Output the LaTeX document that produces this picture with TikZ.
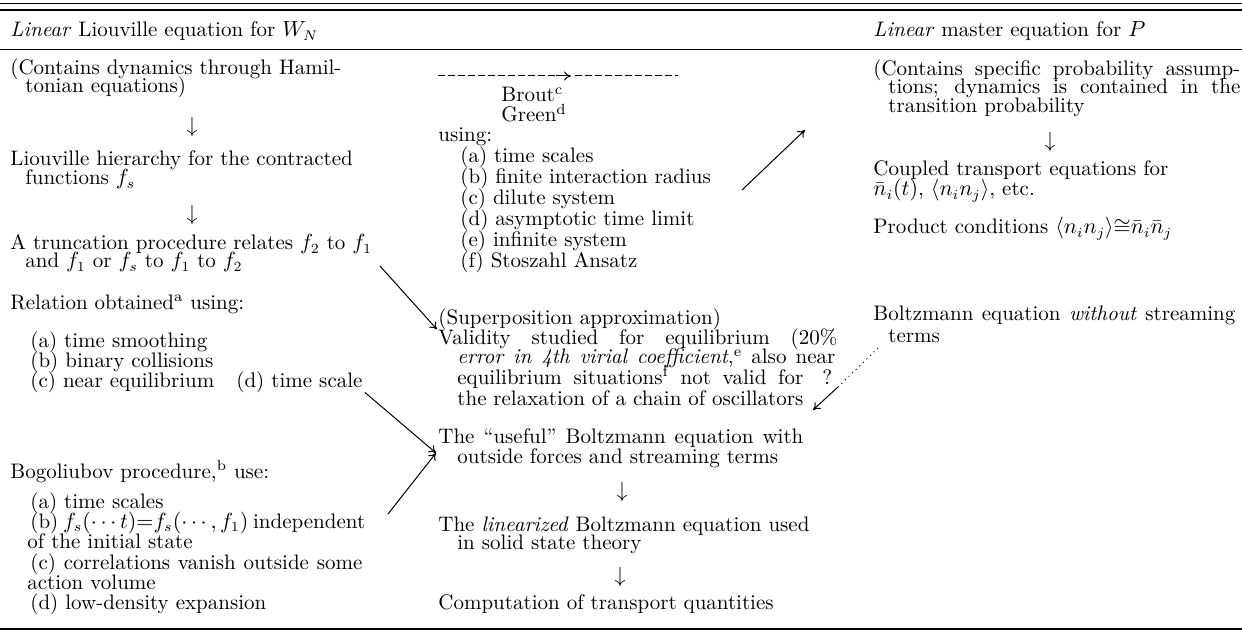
\documentclass[tikz,border=0pt]{standalone}
\usepackage{fontspec}
\usetikzlibrary{arrows.meta}
\begin{document}
\begin{tikzpicture}[x=0.5pt,y=-0.5pt,
  txt/.style={anchor=base west, inner sep=0pt, text height=6pt, text depth=1.5pt, font=\fontsize{10.5}{12}\selectfont},
  glyph/.style={anchor=center, inner sep=0pt, font=\fontsize{10.5}{12}\selectfont},
  arr/.style={-{To[length=3.5pt,width=4.5pt]}, line width=0.5pt},
  rulethin/.style={line width=0.6pt},
  rulethick/.style={line width=0.9pt}]
\useasboundingbox (0,0) rectangle (1242,636);
% rules
\draw[rulethick] (0,3.5) -- (1242,3.5);
\draw[rulethin] (0,10) -- (1242,10);
\draw[rulethin] (0,49.5) -- (1242,49.5);
\draw[rulethick] (0,629) -- (1242,629);
% headers
\node[txt] (hL) at (10,37) {\textit{Linear} Liouville equation for $W_N$};
\node[txt] (hR) at (873,37) {\textit{Linear} master equation for $P$};
% left column
\node[txt] (c1) at (10,75) {(Contains dynamics through Hamil-};
\node[txt] (c2) at (25,93) {tonian equations)};
\node[glyph] (ar1) at (192,127) {$\downarrow$};
\node[txt] (lh1) at (10,166) {Liouville hierarchy for the contracted};
\node[txt] (lh2) at (25,185) {functions $f_s$};
\node[glyph] (ar2) at (192,215) {$\downarrow$};
\node[txt] (tr1) at (10,250) {A truncation procedure relates $f_2$ to $f_1$};
\node[txt] (tr2) at (25,268) {and $f_1$ or $f_s$ to $f_1$ to $f_2$};
\node[txt] (rel) at (10,309) {Relation obtained\textsuperscript{a} using:};
\node[txt] (ra) at (30,347) {(a) time smoothing};
\node[txt] (rb) at (30,367) {(b) binary collisions};
\node[txt] (rc) at (30,387) {(c) near equilibrium};
\node[txt] (rd) at (236,387) {(d) time scale};
\node[txt] (bog) at (10,478) {Bogoliubov procedure,\textsuperscript{b} use:};
\node[txt] (ba) at (30,508) {(a) time scales};
\node[txt] (bb) at (30,528) {\makebox[166pt][s]{(b) $f_s(\cdots t){=}f_s(\cdots,f_1)$ independent}};
\node[txt] (bb2) at (27,548) {of the initial state};
\node[txt] (bc) at (30,569) {\makebox[166pt][s]{(c) correlations vanish outside some}};
\node[txt] (bc2) at (27,589) {action volume};
\node[txt] (bd) at (30,609) {(d) low-density expansion};
% middle column
\coordinate (dA) at (438,76);
\coordinate (dB) at (556,76);
\coordinate (dC) at (571,76);
\coordinate (dD) at (678,76);
\draw[dashed, dash pattern=on 3.5pt off 1.5pt, line width=0.5pt] (dA) -- (dB);
\draw[arr] (dB) -- (dC);
\draw[dashed, dash pattern=on 3.5pt off 1.5pt, line width=0.5pt] ([xshift=2pt]dC) -- (dD);
\node[txt] (brout) at (501,102) {Brout\textsuperscript{c}};
\node[txt] (green) at (501,122) {Green\textsuperscript{d}};
\node[txt] (using) at (438,142) {using:};
\node[txt] (ma) at (460,163) {(a) time scales};
\node[txt] (mb) at (460,184) {(b) finite interaction radius};
\node[txt] (mc) at (460,205) {(c) dilute system};
\node[txt] (md) at (460,226) {(d) asymptotic time limit};
\node[txt] (me) at (460,247) {(e) infinite system};
\node[txt] (mf) at (460,268) {(f) Stoszahl Ansatz};
\node[txt] (sup) at (438,324) {(Superposition approximation)};
\node[txt] (val) at (438,344) {\makebox[199.5pt][s]{Validity studied for equilibrium (20\%}};
\node[txt] (err) at (457,364) {\makebox[189pt][s]{\textit{error in 4th virial coefficient},\textsuperscript{e} also near}};
\node[txt] (eqs) at (457,384) {\makebox[173pt][s]{equilibrium situations\textsuperscript{f} not valid for}};
\node[txt] (qm) at (822,384) {?};
\node[txt] (rlx) at (457,405) {\makebox[173pt][s]{the relaxation of a chain of oscillators}};
\node[txt] (use1) at (438,443) {\makebox[182.5pt][s]{The ``useful'' Boltzmann equation with}};
\node[txt] (use2) at (457,463) {outside forces and streaming terms};
\node[glyph] (ar3) at (622,492) {$\downarrow$};
\node[txt] (lin1) at (438,531) {The \textit{linearized} Boltzmann equation used};
\node[txt] (lin2) at (457,549) {in solid state theory};
\node[glyph] (ar4) at (620,577) {$\downarrow$};
\node[txt] (comp) at (438,609) {Computation of transport quantities};
% right column
\node[txt] (p1) at (873,76) {\makebox[183.5pt][s]{(Contains specific probability assump-}};
\node[txt] (p2) at (888,94) {\makebox[176pt][s]{tions; dynamics is contained in the}};
\node[txt] (p3) at (888,113) {transition probability};
\node[glyph] (ar5) at (1050,142) {$\downarrow$};
\node[txt] (cp1) at (873,176) {Coupled transport equations for};
\node[txt] (cp2) at (873,196) {$\bar n_i(t)$, $\langle n_in_j\rangle$, etc.};
\node[txt] (prod) at (873,234) {Product conditions $\langle n_in_j\rangle{\cong}\bar n_i\bar n_j$};
\node[txt] (bz1) at (873,321) {\makebox[181pt][s]{Boltzmann equation \textit{without} streaming}};
\node[txt] (bz2) at (888,343) {terms};
% diagonal connectors
\coordinate (a1s) at (380,266);
\draw[arr] (a1s) -- ([xshift=-0.5pt,yshift=-1pt]sup.south west);
\coordinate (conv) at (436,453);
\draw[arr] ([xshift=1pt,yshift=-1pt]rd.south east) -- (conv);
\coordinate (a3s) at (388,514);
\draw[arr] (a3s) -- (conv);
\coordinate (a4s) at (742,190);
\coordinate (a4e) at (805,130);
\draw[arr] (a4s) -- (a4e);
\coordinate (a5s) at (878,348);
\coordinate (a5m) at (838,387);
\coordinate (a5e) at (813,410);
\draw[dotted, line width=0.5pt] (a5s) -- (a5m);
\draw[arr] (a5m) -- (a5e);
\end{tikzpicture}
\end{document}
